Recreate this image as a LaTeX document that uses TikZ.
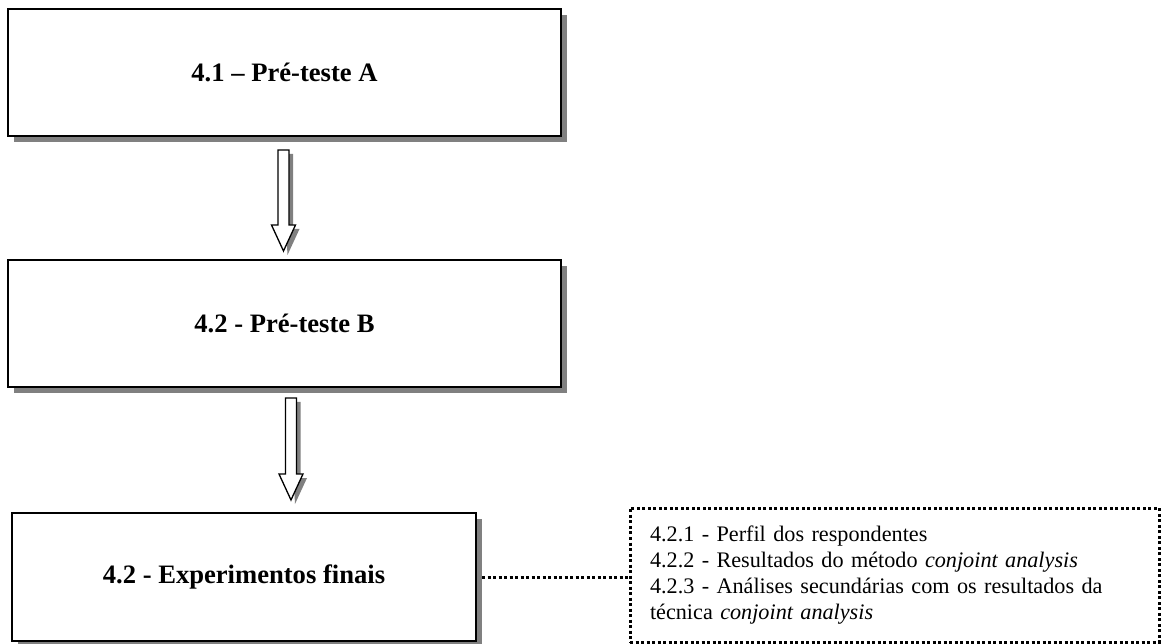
\documentclass[tikz,border=0pt]{standalone}
\usepackage{fontspec}
\setmainfont{Liberation Serif}
\usetikzlibrary{shadows}

\tikzset{
  stagebox/.style={draw, line width=2.2pt, fill=white, rectangle,
    drop shadow={shadow xshift=6pt, shadow yshift=-6pt, fill=black!50, opacity=1},
    font=\fontsize{26.6}{32}\selectfont\bfseries},
  subbox/.style={draw, line width=3pt, dash pattern=on 3pt off 2.5pt,
    rectangle, align=left, inner xsep=20pt,
    font=\fontsize{22.2}{26}\selectfont},
  dotline/.style={line width=3pt, dash pattern=on 3pt off 2.5pt}
}

\begin{document}
\begin{tikzpicture}[x=1pt, y=-1pt]
    \useasboundingbox (0,0) rectangle (1163,644);

    \node[stagebox, minimum width=553pt, minimum height=127pt] (pta) at (284.5,72.5) {4.1 -- Pré-teste A};
    \node[stagebox, minimum width=553pt, minimum height=127pt] (ptb) at (284.5,323.5) {4.2 - Pré-teste B};
    \node[stagebox, minimum width=464pt, minimum height=128pt] (expf) at (244,577) {4.2 - Experimentos finais};

    \node[subbox, minimum width=529pt, minimum height=134pt, text width=489pt] (sub) at (894.5,575)
      {4.2.1 - Perfil dos respondentes\\
       4.2.2 - Resultados do método \textit{conjoint analysis}\\
       4.2.3 - Análises secundárias com os resultados da\\
       técnica \textit{conjoint analysis}};

    % block arrows between the stages
    \foreach \ax/\ay/\ty in {283.5/150/251, 291/398/500}
    {
      \fill[black!50] (\ax-1.5,\ay+4) -- (\ax+9.5,\ay+4) -- (\ax+9.5,\ty-22) -- (\ax+16,\ty-22)
        -- (\ax+4,\ty+4) -- cycle;
      \draw[line width=1.3pt, line join=miter, fill=white] (\ax-5.5,\ay) -- (\ax+5.5,\ay) -- (\ax+5.5,\ty-26)
        -- (\ax+12,\ty-26) -- (\ax,\ty) -- (\ax-12,\ty-26) -- (\ax-5.5,\ty-26) -- cycle;
    }

    \draw[dotline] ([xshift=5pt]expf.east) -- (expf.east -| sub.west);
\end{tikzpicture}
\end{document}
